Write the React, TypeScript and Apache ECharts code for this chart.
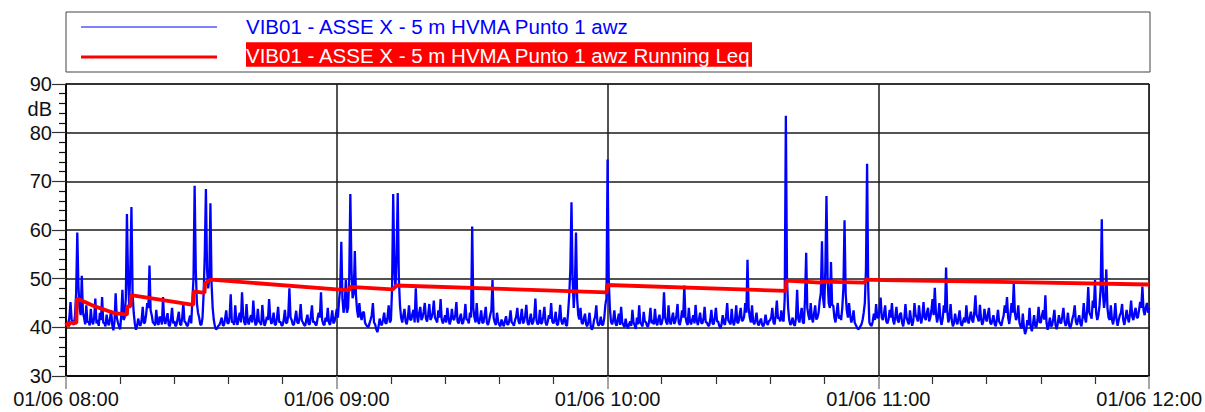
import React, { useEffect, useRef } from "react";
import * as echarts from "echarts";

// Time axis: minutes after 01/06 08:00
const X_TICK_LABELS = ["01/06 08:00", "01/06 09:00", "01/06 10:00", "01/06 11:00", "01/06 12:00"];
const Y_TICKS = [30, 40, 50, 60, 70, 80, 90];
const SERIES_NAMES = [
  "VIB01 - ASSE X - 5 m HVMA Punto 1 awz",
  "VIB01 - ASSE X - 5 m HVMA Punto 1 awz Running Leq",
];

// Blue series: one value every 15 s (0.25 min), 08:00 .. 12:00 (one row = 10 minutes)
const SAMPLE_STEP_MIN = 0.25;
const awzValues = [
  40.3, 40.6, 40.8, 42.0, 45.2, 41.5, 41.0, 40.5, 42.5, 47.0, 59.5, 48.5, 44.0, 42.5, 50.6, 43.0, 42.0, 40.6, 44.5, 41.0, 41.2, 40.4, 43.8, 41.2, 40.6, 42.0, 45.9, 40.8, 41.5, 40.3, 43.0, 41.5, 46.2, 41.0, 40.8, 40.2, 42.6, 41.0, 40.4, 41.8,
  43.5, 40.5, 39.4, 41.2, 47.0, 42.0, 41.0, 40.2, 39.6, 42.5, 47.7, 41.5, 42.0, 46.0, 63.3, 50.0, 44.5, 52.0, 64.7, 47.0, 43.0, 40.8, 39.5, 40.3, 41.8, 40.6, 40.3, 41.5, 44.2, 40.8, 41.0, 42.6, 45.0, 44.0, 52.7, 43.5, 42.5, 41.0, 40.8, 40.4,
  43.6, 41.0, 40.5, 42.2, 41.8, 40.6, 46.2, 41.5, 40.7, 41.8, 42.9, 40.5, 40.2, 41.6, 44.0, 40.8, 41.3, 40.2, 40.6, 41.9, 43.2, 40.7, 40.4, 42.0, 45.0, 41.2, 41.0, 40.4, 40.3, 41.5, 42.4, 40.8, 45.5, 50.0, 69.1, 52.0, 45.0, 43.0, 42.0, 40.6,
  40.5, 42.0, 47.0, 55.0, 68.4, 52.0, 48.0, 50.0, 65.5, 49.0, 44.0, 41.5, 40.2, 39.6, 39.8, 40.3, 40.5, 41.2, 42.0, 40.4, 40.4, 41.8, 43.5, 40.9, 40.8, 42.2, 46.8, 41.0, 41.2, 40.5, 44.5, 41.3, 40.5, 42.0, 43.0, 41.0, 47.2, 42.5, 41.0, 40.5,
  44.8, 41.2, 40.6, 41.8, 42.5, 41.0, 45.5, 42.0, 40.4, 40.9, 43.8, 41.2, 41.0, 40.5, 44.6, 41.6, 40.3, 41.0, 42.2, 41.5, 45.8, 42.0, 40.7, 41.3, 43.0, 40.6, 40.5, 42.0, 44.2, 41.0, 41.2, 40.4, 40.4, 41.6, 43.6, 40.8, 41.0, 42.5, 48.0, 42.0,
  41.5, 40.6, 40.5, 41.8, 43.4, 41.0, 40.8, 42.0, 44.8, 41.4, 41.0, 40.5, 40.3, 41.6, 42.6, 40.7, 40.6, 42.3, 44.5, 41.0, 41.2, 40.6, 40.4, 41.9, 43.0, 42.0, 47.2, 41.5, 40.7, 40.4, 42.0, 41.2, 44.0, 41.0, 40.5, 41.7, 43.5, 40.8, 41.2, 42.4,
  43.8, 42.0, 45.5, 48.0, 57.6, 46.0, 43.0, 44.5, 49.7, 43.0, 44.0, 50.0, 67.4, 52.0, 46.0, 47.0, 55.7, 46.5, 43.5, 42.0, 45.0, 42.5, 41.5, 43.0, 43.2, 41.0, 40.5, 40.2, 40.0, 40.8, 41.6, 42.5, 45.0, 41.0, 40.6, 39.6, 39.0, 40.2, 41.8, 40.6,
  40.5, 41.6, 43.0, 40.9, 40.8, 42.2, 44.5, 41.0, 41.5, 48.0, 67.4, 52.0, 48.0, 55.0, 67.6, 50.0, 44.5, 42.0, 41.0, 42.5, 43.8, 41.2, 40.6, 42.0, 44.5, 41.6, 41.5, 42.8, 43.6, 41.0, 48.0, 42.5, 41.0, 43.0, 44.2, 41.5, 42.0, 43.2, 45.0, 41.8,
  41.2, 42.6, 44.8, 41.5, 42.0, 43.0, 45.5, 42.0, 41.5, 41.0, 43.5, 42.0, 45.8, 41.6, 40.8, 41.5, 42.5, 41.0, 44.0, 42.0, 40.6, 41.4, 43.8, 41.8, 41.5, 42.6, 45.2, 41.2, 40.8, 41.9, 42.8, 40.7, 41.0, 42.2, 44.8, 41.5, 41.6, 40.8, 43.0, 42.0,
  60.7, 44.0, 42.0, 41.0, 45.0, 41.5, 40.7, 41.8, 43.5, 40.9, 41.0, 42.5, 44.2, 41.0, 40.5, 41.4, 42.6, 43.5, 49.7, 42.0, 41.0, 40.5, 43.0, 41.2, 40.5, 40.2, 41.6, 40.8, 40.2, 41.3, 42.3, 40.6, 40.6, 41.5, 43.5, 41.0, 40.8, 40.3, 41.5, 42.2,
  44.0, 41.3, 40.7, 42.0, 43.8, 40.8, 41.2, 42.5, 44.6, 41.0, 40.5, 41.6, 42.8, 40.6, 41.0, 42.2, 45.9, 41.4, 40.6, 41.0, 43.6, 40.7, 41.0, 42.3, 44.2, 41.0, 40.4, 41.2, 42.5, 41.8, 45.0, 41.2, 40.8, 41.5, 43.2, 40.6, 40.5, 42.0, 44.6, 41.3,
  40.6, 41.5, 42.0, 40.5, 40.3, 43.0, 46.5, 52.0, 65.7, 50.0, 44.0, 48.0, 59.5, 46.0, 42.5, 41.6, 44.0, 41.0, 40.7, 41.8, 42.8, 40.6, 40.2, 41.2, 43.0, 40.4, 39.5, 40.0, 41.5, 42.2, 44.5, 41.0, 40.3, 40.8, 42.2, 40.5, 40.5, 41.8, 44.5, 46.0,
  74.5, 50.0, 44.0, 41.2, 40.6, 41.5, 43.5, 40.8, 40.3, 41.6, 42.8, 40.5, 44.2, 41.0, 40.5, 40.0, 41.8, 40.4, 39.8, 40.6, 41.2, 40.3, 43.6, 41.0, 40.4, 39.7, 42.0, 40.6, 44.5, 41.0, 40.6, 40.2, 43.2, 41.2, 41.0, 40.3, 40.2, 41.5, 44.0, 40.8,
  41.5, 40.6, 43.8, 41.0, 40.4, 41.7, 42.6, 40.5, 40.8, 42.0, 47.2, 42.0, 41.0, 40.6, 44.5, 41.3, 40.6, 41.8, 43.0, 40.7, 41.2, 42.5, 44.8, 41.0, 40.5, 41.6, 43.5, 42.0, 48.6, 42.2, 41.0, 40.5, 44.0, 41.2, 40.6, 41.6, 42.5, 40.8, 44.6, 41.5,
  40.5, 41.6, 43.0, 40.9, 40.8, 41.8, 44.2, 41.0, 41.0, 40.4, 40.3, 41.5, 43.6, 40.8, 40.6, 42.0, 44.0, 41.2, 41.2, 40.3, 39.8, 40.6, 42.5, 41.0, 40.5, 42.2, 45.0, 41.4, 41.0, 40.6, 43.8, 41.2, 40.4, 41.6, 44.5, 40.9, 41.0, 42.5, 44.0, 41.3,
  41.5, 42.2, 45.0, 43.0, 53.9, 44.0, 42.0, 41.0, 44.5, 41.2, 40.6, 41.5, 43.0, 40.8, 40.4, 41.2, 41.8, 40.5, 40.2, 40.9, 42.6, 41.0, 40.5, 41.3, 41.5, 42.0, 44.0, 41.0, 40.6, 42.5, 45.5, 41.8, 42.0, 41.2, 43.5, 41.6, 41.2, 46.0, 83.5, 50.0,
  44.0, 41.5, 40.5, 41.0, 42.0, 40.6, 40.3, 42.0, 47.7, 41.8, 41.0, 42.5, 44.0, 41.0, 40.8, 46.0, 55.3, 44.0, 42.5, 41.5, 45.0, 42.0, 41.0, 42.8, 44.5, 41.6, 42.0, 43.0, 45.5, 47.0, 57.7, 46.0, 44.0, 52.0, 67.0, 50.0, 45.0, 44.0, 53.4, 44.5,
  44.5, 42.0, 41.0, 43.0, 45.0, 41.8, 42.5, 41.5, 44.0, 48.0, 62.0, 47.0, 43.5, 42.0, 45.0, 42.5, 41.0, 41.8, 43.5, 41.0, 40.5, 40.0, 39.6, 39.8, 40.2, 40.6, 41.5, 43.0, 45.0, 52.0, 73.6, 48.0, 41.0, 40.5, 40.3, 41.2, 42.8, 41.5, 44.8, 42.0,
  42.0, 43.5, 46.1, 42.0, 41.5, 42.8, 44.5, 41.2, 40.8, 41.6, 43.6, 42.0, 45.0, 41.5, 40.6, 42.2, 44.2, 41.5, 41.0, 42.6, 43.0, 41.0, 40.2, 41.8, 44.8, 42.0, 41.2, 40.6, 43.5, 41.6, 40.3, 41.4, 45.0, 42.5, 42.0, 41.2, 44.5, 42.0, 40.8, 42.3,
  45.2, 42.0, 41.5, 43.0, 44.0, 41.2, 42.0, 43.5, 45.8, 42.5, 48.1, 43.0, 41.0, 42.2, 45.0, 41.6, 40.5, 41.8, 44.5, 43.0, 52.3, 43.5, 41.0, 42.0, 44.8, 41.5, 40.2, 40.8, 42.8, 41.4, 40.6, 41.9, 43.5, 40.8, 40.3, 41.2, 42.0, 41.0, 44.5, 41.6,
  40.8, 42.0, 43.2, 41.5, 41.0, 43.0, 46.6, 42.5, 42.0, 41.2, 44.6, 41.8, 40.5, 41.2, 43.8, 42.0, 41.2, 42.6, 44.0, 41.0, 40.6, 41.5, 42.5, 40.7, 40.2, 41.6, 43.6, 41.2, 40.8, 40.3, 41.5, 42.4, 44.5, 43.0, 46.2, 42.0, 40.7, 42.5, 45.0, 43.0,
  49.0, 43.0, 41.5, 42.2, 44.5, 41.0, 40.2, 39.8, 42.8, 40.0, 38.6, 39.4, 41.5, 40.4, 44.0, 40.2, 39.2, 40.6, 42.5, 40.3, 40.0, 41.5, 44.2, 41.0, 41.0, 42.5, 43.5, 41.6, 46.6, 41.0, 39.5, 40.4, 42.0, 40.2, 40.4, 41.8, 43.6, 40.5, 39.6, 40.8,
  42.5, 41.0, 40.8, 42.3, 44.0, 41.2, 40.3, 41.0, 43.0, 40.5, 39.8, 40.6, 41.8, 42.6, 44.5, 41.2, 40.5, 41.6, 42.5, 40.8, 40.2, 42.0, 45.0, 42.0, 41.0, 43.5, 48.3, 43.0, 42.5, 41.8, 45.5, 44.0, 49.7, 43.0, 41.5, 42.5, 44.5, 48.0, 62.2, 47.0,
  44.0, 46.0, 51.9, 44.0, 42.0, 41.5, 44.5, 41.6, 40.6, 42.0, 45.0, 41.8, 40.3, 41.5, 42.5, 43.0, 44.8, 41.5, 40.5, 41.8, 43.6, 42.0, 41.0, 42.8, 45.5, 42.2, 41.5, 43.0, 44.0, 42.0, 42.0, 43.5, 45.2, 44.0, 48.4, 43.5, 42.5, 44.0, 45.0, 43.0,
  44.0,
];

// Red series: Running Leq, breakpoints (minutes after 08:00, dB)
const leqMinutes = [
  0, 0.45, 0.9, 2.3, 2.4, 4.2, 6.4, 10.8, 13.5, 13.6, 14.3, 14.4, 28.2, 28.3, 30.7, 30.8, 32.1,
  62.8, 62.9, 72.4, 73.2, 119.8, 119.9, 159.5, 159.6, 167.2, 167.4, 177.0, 177.2, 181.3, 210.1, 240,
];
const leqValues = [
  41.0, 40.3, 40.9, 40.9, 45.9, 45.2, 44.3, 42.9, 42.6, 44.3, 44.3, 46.6, 44.6, 47.4, 47.1, 49.1, 49.8,
  47.6, 48.3, 47.8, 48.6, 47.2, 48.7, 47.5, 49.6, 49.2, 49.4, 49.2, 49.8, 49.7, 49.3, 48.8,
];

const FONT = "'Liberation Sans', Arial, sans-serif";

export default function App() {
  const ref = useRef<HTMLDivElement>(null);

  useEffect(() => {
    if (!ref.current) return;
    const chart = echarts.init(ref.current, undefined, { renderer: "svg" });

    const awzData = awzValues.map((v, i) => [i * SAMPLE_STEP_MIN, v]);
    const leqData = leqMinutes.map((t, i) => [t, leqValues[i]]);

    chart.setOption({
      animation: false,
      backgroundColor: "#ffffff",
      textStyle: { fontFamily: FONT },
      grid: {
        left: 66,
        right: 55,
        top: 84,
        bottom: 36,
        show: true,
        borderColor: "#000",
        borderWidth: 1,
        backgroundColor: "transparent",
      },
      xAxis: {
        type: "value",
        min: 0,
        max: 240,
        interval: 60,
        axisLine: { show: true, lineStyle: { color: "#000", width: 1.5 } },
        axisTick: { show: true, length: 13, lineStyle: { color: "#888", width: 1.5 } },
        minorTick: { show: true, splitNumber: 5, length: 8, lineStyle: { color: "#333", width: 1.2 } },
        splitLine: { show: true, lineStyle: { color: "#1a1a1a", width: 1.5 } },
        axisLabel: {
          show: true,
          margin: 13,
          fontSize: 20,
          color: "#111",
          fontFamily: FONT,
          showMinLabel: true,
          showMaxLabel: true,
          formatter: (v: number) => X_TICK_LABELS[Math.round(v / 60)] ?? "",
        },
      },
      yAxis: {
        type: "value",
        min: Y_TICKS[0],
        max: Y_TICKS[Y_TICKS.length - 1],
        interval: 10,
        axisLine: { show: true, lineStyle: { color: "#000", width: 1.5 } },
        axisTick: { show: true, length: 14, lineStyle: { color: "#333", width: 1.2 } },
        minorTick: { show: true, splitNumber: 5, length: 7, lineStyle: { color: "#111", width: 1.2 } },
        splitLine: { show: true, lineStyle: { color: "#1a1a1a", width: 1.5 } },
        axisLabel: { show: true, margin: 14, fontSize: 20, color: "#111", fontFamily: FONT },
      },
      series: [
        {
          name: SERIES_NAMES[0],
          type: "line",
          data: awzData,
          showSymbol: false,
          symbol: "none",
          sampling: undefined,
          lineStyle: { color: "#0000ff", width: 2.3, join: "bevel" },
          z: 2,
        },
        {
          name: SERIES_NAMES[1],
          type: "line",
          data: leqData,
          showSymbol: false,
          symbol: "none",
          lineStyle: { color: "#ff0000", width: 3.8 },
          z: 3,
        },
      ],
      graphic: [
        {
          type: "rect",
          shape: { x: 66, y: 12, width: 1084, height: 60 },
          style: { fill: "#fff", stroke: "#444", lineWidth: 1 },
          z: 10,
        },
        {
          type: "line",
          shape: { x1: 81, y1: 27, x2: 217, y2: 27 },
          style: { stroke: "#0000ff", lineWidth: 1.2 },
          z: 11,
        },
        {
          type: "line",
          shape: { x1: 81, y1: 57, x2: 217, y2: 57 },
          style: { stroke: "#ff0000", lineWidth: 3 },
          z: 11,
        },
        {
          type: "text",
          x: 246,
          y: 26,
          style: {
            text: SERIES_NAMES[0],
            fill: "#0000ff",
            font: `20.5px ${FONT}`,
            textVerticalAlign: "middle",
            verticalAlign: "middle",
          },
          z: 11,
        },
        {
          type: "rect",
          shape: { x: 246, y: 42.3, width: 506, height: 24.4 },
          style: { fill: "#ff0000" },
          z: 11,
        },
        {
          type: "text",
          x: 246,
          y: 55,
          style: {
            text: SERIES_NAMES[1],
            fill: "#ffffff",
            font: `20.5px ${FONT}`,
            textVerticalAlign: "middle",
            verticalAlign: "middle",
          },
          z: 12,
        },
        {
          type: "text",
          x: 52,
          y: 108.5,
          style: {
            text: "dB",
            fill: "#111",
            font: `20px ${FONT}`,
            align: "right",
            textAlign: "right",
            verticalAlign: "middle",
            textVerticalAlign: "middle",
          },
          z: 11,
        },
      ],
    });

    return () => {
      chart.dispose();
    };
  }, []);

  return (
    <div
      ref={ref}
      style={{ position: "fixed", left: 0, top: 0, width: 1205, height: 412, background: "#fff" }}
    />
  );
}
